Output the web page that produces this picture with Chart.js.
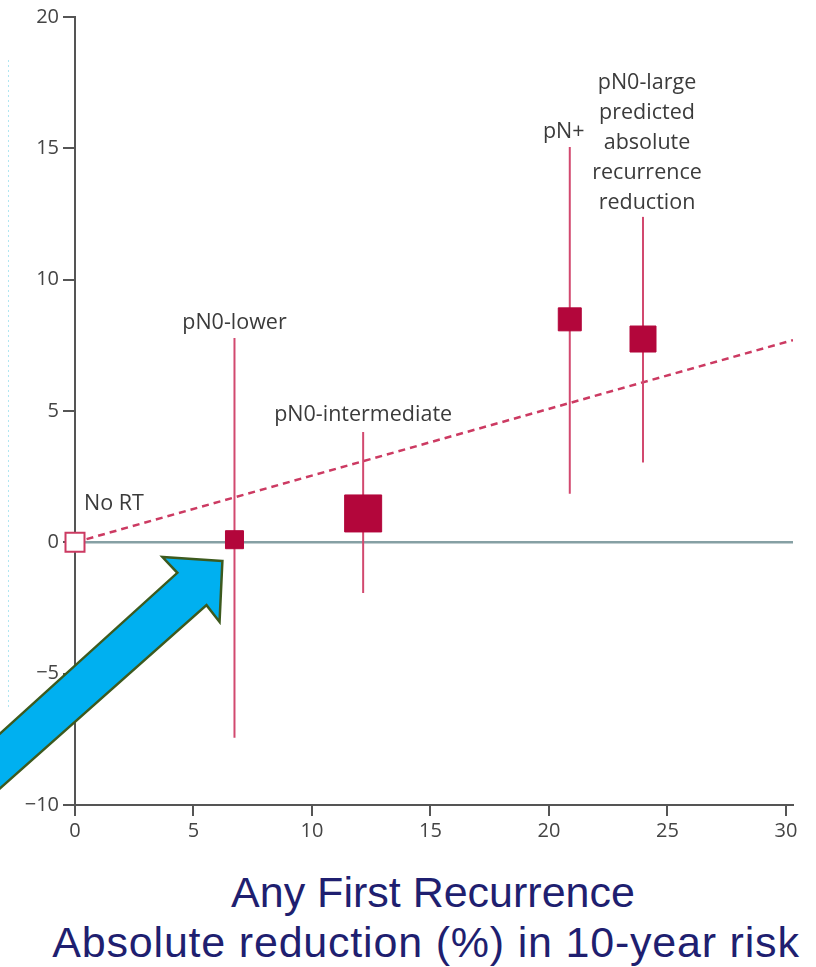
<!DOCTYPE html>
<html>
<head>
<meta charset="utf-8">
<title>Any First Recurrence</title>
<script src="https://cdn.jsdelivr.net/npm/chart.js@4.4.1/dist/chart.umd.min.js"></script>
<style>
  body { margin: 0; background: #fff; }
  #wrap { position: relative; width: 816px; height: 867px; }
  #caption {
    width: 816px; text-align: center; color: #1f1f70;
    font-family: 'Liberation Sans', Arial, sans-serif; font-size: 43px; line-height: 50px;
  }
  #caption div { box-sizing: border-box; width: 816px; }
  #caption .l1 { padding-left: 50px; }
  #caption .l2 { padding-left: 36px; letter-spacing: 0.8px; }
</style>
</head>
<body>
<div id="wrap"><canvas id="forestChart"></canvas></div>
<div id="caption">
  <div class="l1">Any First Recurrence</div>
  <div class="l2">Absolute reduction (%) in 10-year risk</div>
</div>

<script>
// groups plotted against the 10-year absolute recurrence reduction
const groups = ['No RT', 'pN0-lower', 'pN0-intermediate', 'pN+', 'pN0-large predicted absolute recurrence reduction'];
const recurrenceReduction = [0, 6.73, 12.16, 20.88, 23.97];
const effectEstimate = [0, 0.1, 1.1, 8.49, 7.74];
const ciLow = [null, -7.44, -1.93, 1.85, 3.04];
const ciHigh = [null, 7.78, 4.2, 15.05, 12.39];

// fitted line through the origin
const trendX = [0, 30.3];
const trendY = [0, 7.7];

const xTicks = [0, 5, 10, 15, 20, 25, 30];
const yTicks = [-10, -5, 0, 5, 10, 15, 20];

// styling
const squareSide = [19, 18, 37, 23, 26];
const labelOffset = [[9, -38], [0, -15], [0, -17], [-6, -15], [4, -14]];
const wrapLabel = [false, false, false, false, true];
const crimson = '#b3063b';
const ciColor = '#d2496f';
const axisColor = '#555';

// blue call-out arrow, outline in axis units
const pointerOutline = [
    [6.22, -0.71], [3.69, -0.56], [4.32, -1.16], [-4.47, -8.35],
    [-4.47, -10.41], [5.55, -2.39], [6.10, -3.03]
];

const ciDatasets = groups.map((g, i) => ciLow[i] === null ? null : {
    type: 'line',
    data: [{ x: recurrenceReduction[i], y: ciLow[i] }, { x: recurrenceReduction[i], y: ciHigh[i] }],
    borderColor: ciColor,
    borderWidth: 2,
    pointRadius: 0,
    order: 2
}).filter(Boolean);

const annotate = {
    id: 'annotate',
    afterDatasetsDraw(chart) {
        const { ctx, scales: { x, y } } = chart;
        ctx.save();
        ctx.font = '21.5px "Open Sans", sans-serif';
        ctx.fillStyle = '#3b3b3b';
        ctx.textBaseline = 'middle';
        groups.forEach((name, i) => {
            const px = x.getPixelForValue(recurrenceReduction[i]) + labelOffset[i][0];
            const anchor = ciHigh[i] === null ? effectEstimate[i] : ciHigh[i];
            const py = y.getPixelForValue(anchor) + labelOffset[i][1];
            if (i === 0) {
                ctx.textAlign = 'left';
                ctx.fillText(name, px, py);
                return;
            }
            ctx.textAlign = 'center';
            const lines = wrapLabel[i] ? name.split(' ') : [name];
            lines.forEach((line, k) => {
                ctx.fillText(line, px, py - (lines.length - 1 - k) * 30);
            });
        });
        ctx.restore();
    },
    afterDraw(chart) {
        const { ctx, scales: { x, y } } = chart;
        ctx.save();

        // faint dotted guide on the far left
        ctx.strokeStyle = 'rgba(110, 210, 230, 0.55)';
        ctx.lineWidth = 1;
        ctx.setLineDash([2, 3]);
        ctx.beginPath();
        ctx.moveTo(8.5, 60);
        ctx.lineTo(8.5, 707);
        ctx.stroke();
        ctx.setLineDash([]);

        // arrow
        ctx.beginPath();
        pointerOutline.forEach(([vx, vy], k) => {
            const px = x.getPixelForValue(vx), py = y.getPixelForValue(vy);
            if (k === 0) ctx.moveTo(px, py); else ctx.lineTo(px, py);
        });
        ctx.closePath();
        ctx.fillStyle = '#00b0f0';
        ctx.fill();
        ctx.strokeStyle = '#3d5a1e';
        ctx.lineWidth = 2.5;
        ctx.lineJoin = 'miter';
        ctx.stroke();
        ctx.restore();
    }
};

const tickFont = { family: '"Open Sans", sans-serif', size: 20 };

new Chart(document.getElementById('forestChart'), {
    type: 'scatter',
    data: {
        datasets: [
            {
                label: 'groups',
                data: groups.map((g, i) => ({ x: recurrenceReduction[i], y: effectEstimate[i] })),
                pointStyle: 'rect',
                pointRadius: squareSide.map(s => s / Math.SQRT2),
                backgroundColor: groups.map((g, i) => i === 0 ? '#fff' : crimson),
                borderColor: groups.map((g, i) => i === 0 ? '#cc3a62' : crimson),
                borderWidth: groups.map((g, i) => i === 0 ? 2 : 1),
                clip: false,
                order: 0
            },
            ...ciDatasets,
            {
                type: 'line',
                label: 'trend',
                data: trendX.map((v, i) => ({ x: v, y: trendY[i] })),
                borderColor: '#cc3a62',
                borderWidth: 2.5,
                borderDash: [7, 5],
                pointRadius: 0,
                order: 3
            },
            {
                type: 'line',
                label: 'zero',
                data: [{ x: 0, y: 0 }, { x: 30.3, y: 0 }],
                borderColor: '#86a0a4',
                borderWidth: 2.5,
                pointRadius: 0,
                order: 4
            }
        ]
    },
    options: {
        responsive: true,
        maintainAspectRatio: false,
        animation: false,
        layout: { autoPadding: false, padding: { left: 0, right: 23, top: 17, bottom: 0 } },
        scales: {
            x: {
                type: 'linear',
                min: 0, max: 30.3,
                afterBuildTicks: axis => { axis.ticks = xTicks.map(v => ({ value: v })); },
                afterFit: axis => {
                    axis.height = 62;
                    axis.paddingLeft = 0;
                    axis.paddingRight = 0;
                },
                ticks: { color: '#444', font: tickFont, padding: 3 },
                grid: { drawOnChartArea: false, drawTicks: true, tickLength: 11, color: axisColor, lineWidth: 2 },
                border: { display: true, color: axisColor, width: 2 }
            },
            y: {
                type: 'linear',
                min: -10, max: 20,
                afterBuildTicks: axis => { axis.ticks = yTicks.map(v => ({ value: v })); },
                afterFit: axis => {
                    axis.width = 75;
                    axis.paddingTop = 0;
                    axis.paddingBottom = 0;
                },
                ticks: {
                    color: '#444', font: tickFont, padding: 4,
                    callback: v => v < 0 ? '\u2212' + Math.abs(v) : String(v)
                },
                grid: { drawOnChartArea: false, drawTicks: true, tickLength: 12, color: axisColor, lineWidth: 2 },
                border: { display: true, color: axisColor, width: 2 }
            }
        },
        plugins: {
            legend: { display: false },
            tooltip: { enabled: false }
        }
    },
    plugins: [annotate]
});
</script>
</body>
</html>
